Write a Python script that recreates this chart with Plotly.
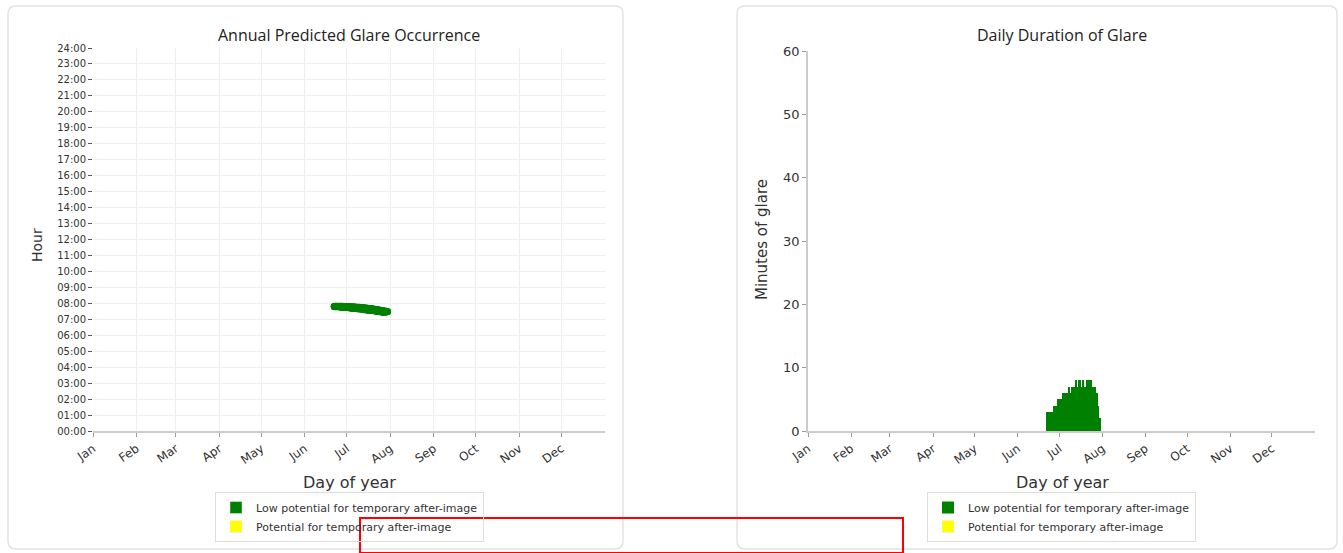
import plotly.graph_objects as go

W, H = 1343, 553

# ---------------- data ----------------
month_labels = ["Jan", "Feb", "Mar", "Apr", "May", "Jun",
                "Jul", "Aug", "Sep", "Oct", "Nov", "Dec"]
month_start_day = [1, 32, 60, 91, 121, 152, 182, 213, 244, 274, 305, 335]

hour_ticks = list(range(0, 25))
hour_labels = ["%02d:00" % h for h in hour_ticks]

glare_days = list(range(173, 212))  # day of year
glare_minutes = [3, 3, 3, 3, 3,
                 4, 4, 4,
                 5, 5, 5,
                 5, 6, 6,
                 6, 6, 7, 6,
                 7, 7, 7,
                 8, 7, 8, 8, 7, 8,
                 7, 7,
                 8, 8, 8, 8,
                 7, 7, 7,
                 6, 4, 2]
glare_start_hour = [7.82, 7.82, 7.82, 7.82, 7.81, 7.81, 7.81, 7.80, 7.80, 7.80,
                    7.79, 7.79, 7.78, 7.78, 7.77, 7.77, 7.76, 7.75, 7.75, 7.74,
                    7.73, 7.72, 7.71, 7.70, 7.69, 7.68, 7.67, 7.66, 7.65, 7.63,
                    7.62, 7.60, 7.59, 7.57, 7.55, 7.53, 7.52, 7.50, 7.49]

# minute-level glare points for the annual occurrence plot
occ_x, occ_y = [], []
for d, s, m in zip(glare_days, glare_start_hour, glare_minutes):
    for k in range(m):
        occ_x.append(d)
        occ_y.append(s - k / 60.0)

GREEN = "#008000"
YELLOW = "#ffff00"
LOW_LABEL = "Low potential for temporary after-image"
POT_LABEL = "Potential for temporary after-image"

def px(x):
    return x / W

def py(y):
    return 1 - y / H

fig = go.Figure()

# left: annual occurrence
fig.add_trace(go.Scatter(x=occ_x, y=occ_y, mode="markers",
                         marker=dict(color=GREEN, size=7, line=dict(width=0)),
                         showlegend=False, xaxis="x", yaxis="y", hoverinfo="skip"))
fig.add_trace(go.Bar(x=[None], y=[None], name=LOW_LABEL, marker_color=GREEN,
                     showlegend=True, xaxis="x", yaxis="y", legend="legend"))
fig.add_trace(go.Bar(x=[None], y=[None], name=POT_LABEL, marker_color=YELLOW,
                     showlegend=True, xaxis="x", yaxis="y", legend="legend"))

# right: daily duration
fig.add_trace(go.Bar(x=glare_days, y=glare_minutes, width=1, name=LOW_LABEL,
                     marker=dict(color=GREEN, line=dict(width=0)),
                     showlegend=True, xaxis="x2", yaxis="y2", legend="legend2"))
fig.add_trace(go.Bar(x=[None], y=[None], name=POT_LABEL, marker_color=YELLOW,
                     showlegend=True, xaxis="x2", yaxis="y2", legend="legend2"))

tick_font = dict(family="DejaVu Sans", size=10, color="#333333")
month_font = dict(family="DejaVu Sans", size=12, color="#333333")

common_x = dict(range=[1, 366], tickmode="array", tickvals=month_start_day,
                ticktext=month_labels, tickangle=-35, tickfont=month_font,
                ticks="outside", ticklen=4, tickcolor="#999999",
                showline=True, linecolor="#cccccc", linewidth=2,
                zeroline=False, fixedrange=True, automargin=False)

legend_common = dict(yanchor="top", xanchor="center",
                     bgcolor="rgba(255,255,255,0)", bordercolor="#dddddd", borderwidth=1,
                     font=dict(family="DejaVu Sans", size=11, color="#333333"),
                     tracegroupgap=0, itemwidth=30)

fig.update_layout(
    width=W, height=H, autosize=False,
    margin=dict(l=0, r=0, t=0, b=0, pad=0, autoexpand=False),
    paper_bgcolor="white", plot_bgcolor="white",
    bargap=0,
    xaxis=dict(domain=[px(93), px(605)], anchor="y", showgrid=True,
               gridcolor="#eeeeee", gridwidth=1, **common_x),
    yaxis=dict(domain=[py(431), py(48)], anchor="x", range=[0, 24],
               tickmode="array", tickvals=hour_ticks, ticktext=hour_labels,
               tickfont=tick_font, ticks="outside", ticklen=4, tickcolor="#555555",
               showgrid=True, gridcolor="#eeeeee", gridwidth=1,
               showline=False, zeroline=False, fixedrange=True, automargin=False),
    xaxis2=dict(domain=[px(808), px(1315)], anchor="y2", showgrid=False, **common_x),
    yaxis2=dict(domain=[py(431), py(51)], anchor="x2", range=[0, 60], dtick=10,
                tickfont=dict(family="DejaVu Sans", size=13, color="#333333"),
                ticks="outside", ticklen=4, tickcolor="#999999",
                showgrid=False, showline=True, linecolor="#cccccc", linewidth=1.5,
                zeroline=False, fixedrange=True, automargin=False),
    legend=dict(x=px(349.5), y=py(492), **legend_common),
    legend2=dict(x=px(1061.5), y=py(492), **legend_common),
)

title_font = dict(family="Open Sans", size=16, color="#222222")
label_font = dict(family="DejaVu Sans", size=16, color="#333333")
annos = [
    dict(text="Annual Predicted Glare Occurrence", x=px(349), y=py(35),
         font=title_font),
    dict(text="Daily Duration of Glare", x=px(1062), y=py(35), font=title_font),
    dict(text="Day of year", x=px(349), y=py(482), font=label_font),
    dict(text="Day of year", x=px(1062), y=py(482), font=label_font),
    dict(text="Hour", x=px(37), y=py(245), textangle=-90,
         font=dict(family="DejaVu Sans", size=14, color="#333333")),
    dict(text="Minutes of glare", x=px(762), y=py(240), textangle=-90,
         font=dict(family="DejaVu Sans", size=15, color="#333333")),
]
for a in annos:
    a.update(xref="paper", yref="paper", showarrow=False,
             xanchor="center", yanchor="middle")
fig.update_layout(annotations=annos)

def rounded_card(x0, y0, x1, y1, r=8):
    rx, ry = r / W, r / H
    X0, X1 = px(x0), px(x1)
    Y0, Y1 = py(y0), py(y1)  # Y0 top, Y1 bottom (paper)
    path = (f"M {X0+rx},{Y0} L {X1-rx},{Y0} Q {X1},{Y0} {X1},{Y0-ry} "
            f"L {X1},{Y1+ry} Q {X1},{Y1} {X1-rx},{Y1} L {X0+rx},{Y1} "
            f"Q {X0},{Y1} {X0},{Y1+ry} L {X0},{Y0-ry} Q {X0},{Y0} {X0+rx},{Y0} Z")
    return dict(type="path", path=path, xref="paper", yref="paper",
                line=dict(color="#e3e3e3", width=1.5), fillcolor="rgba(0,0,0,0)",
                layer="below")

shapes = [
    rounded_card(8, 6, 623, 549),
    rounded_card(737, 6, 1337, 549),
    dict(type="rect", xref="paper", yref="paper",
         x0=px(360), x1=px(903), y0=py(553), y1=py(518),
         line=dict(color="#ff0000", width=2), fillcolor="rgba(0,0,0,0)",
         layer="above"),
]
fig.update_layout(shapes=shapes)

fig.write_html(
    "out.html",
    config={"displayModeBar": False},
    post_script="document.body.style.margin='0px';document.body.style.overflow='hidden';",
)
